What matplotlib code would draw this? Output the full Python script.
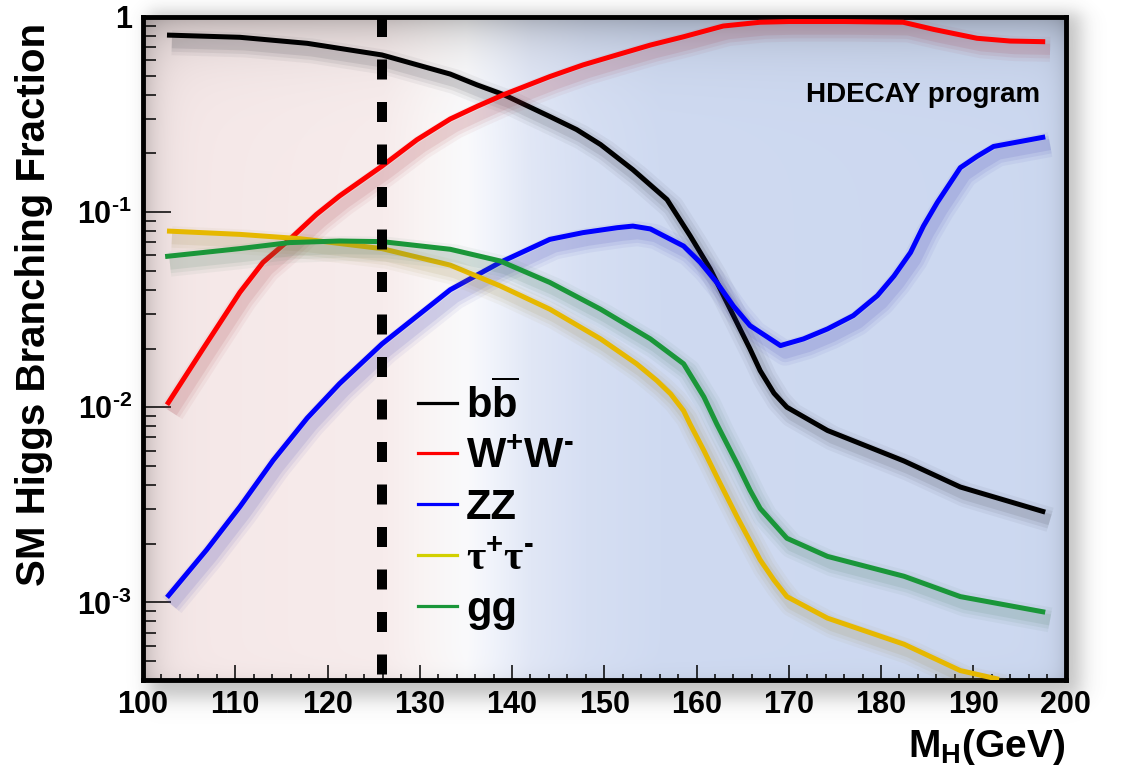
import numpy as np
import matplotlib
matplotlib.use("Agg")
import matplotlib.pyplot as plt
import matplotlib.patheffects as pe
from matplotlib.colors import to_rgb
from matplotlib.lines import Line2D
from matplotlib.ticker import FixedLocator, MultipleLocator, LogLocator, NullFormatter

plt.rcParams["font.family"] = ["Liberation Sans", "DejaVu Sans"]
plt.rcParams["font.weight"] = "bold"
plt.rcParams["mathtext.fontset"] = "custom"
plt.rcParams["mathtext.rm"] = "Liberation Sans:bold"
plt.rcParams["mathtext.bf"] = "Liberation Sans:bold"
plt.rcParams["mathtext.it"] = "Liberation Sans:italic:bold"
plt.rcParams["mathtext.sf"] = "Liberation Serif"

# ---- data ----
m_bb = [102.6, 110.5, 117.8, 125.9, 130.4, 133.3, 136.2, 139.1, 144.1, 147.0, 149.6,
        153.1, 156.8, 159.3, 161.5, 164.0, 165.8, 166.9, 168.4, 169.8, 174.2,
        182.5, 188.6, 197.8]
br_bb = [0.808, 0.787, 0.733, 0.639, 0.557, 0.51, 0.449, 0.40, 0.309, 0.265, 0.222,
         0.165, 0.116, 0.0758, 0.051, 0.0295, 0.0199, 0.0154, 0.0118, 0.0100, 0.0076,
         0.0053, 0.0039, 0.0029]

m_ww = [102.6, 106.5, 110.5, 113.0, 115.9, 118.8, 121.3, 125.9, 129.7,
        133.3, 136.2, 139.1, 144.1, 147.7, 151.4, 155.0, 158.6, 162.9, 166.9, 170.0,
        176.0, 182.4, 185.7, 190.4, 194.0, 197.8]
br_ww = [0.0103, 0.0199, 0.0388, 0.0552, 0.0725, 0.0973, 0.121, 0.172, 0.235,
         0.30, 0.348, 0.40, 0.495, 0.568, 0.64, 0.718, 0.792, 0.899, 0.94, 0.948,
         0.948, 0.94, 0.864, 0.778, 0.753, 0.747]

m_zz = [102.6, 106.9, 110.5, 114.1, 117.8, 121.3, 125.9, 133.3, 138.7, 144.1,
        147.7, 151.4, 153.1, 155.0, 158.6, 160.4, 162.2, 164.0, 165.8, 169.1, 171.6,
        174.2, 177.0, 179.6, 181.4, 183.2, 184.6, 186.1, 188.6, 190.4, 192.2, 197.8]
br_zz = [0.00106, 0.00186, 0.00309, 0.00534, 0.0088, 0.0132, 0.0211, 0.040, 0.0552, 0.0725,
         0.0785, 0.0832, 0.0848, 0.082, 0.067, 0.0553, 0.0436, 0.033, 0.0262, 0.0207, 0.0224,
         0.0252, 0.0295, 0.0373, 0.047, 0.0621, 0.0848, 0.112, 0.169, 0.193, 0.217, 0.243]

m_tt = [102.6, 110.5, 117.0, 125.9, 133.3, 138.7, 144.1, 149.6, 153.5, 155.7,
        157.2, 158.6, 159.3, 160.8, 162.2, 164.4, 166.9, 168.4, 169.8, 174.2, 182.5,
        188.6, 192.8]
br_tt = [0.080, 0.0769, 0.0731, 0.065, 0.0535, 0.0419, 0.0318, 0.0224, 0.0167, 0.0137,
         0.0117, 0.0096, 0.0082, 0.006, 0.0044, 0.00274, 0.00165, 0.0013, 0.00107, 0.00083, 0.00061,
         0.000447, 0.000403]

m_gg = [102.4, 110.5, 115.9, 121.3, 125.9, 133.3, 138.7, 144.1, 149.6, 155.0,
        158.6, 160.8, 162.2, 164.4, 165.8, 166.9, 169.8, 174.2, 182.5, 188.6, 197.8]
br_gg = [0.0592, 0.065, 0.0698, 0.0711, 0.0706, 0.0645, 0.0562, 0.0436, 0.0318, 0.0224,
         0.0167, 0.0113, 0.0082, 0.00514, 0.00376, 0.00303, 0.00213, 0.00172, 0.00136, 0.00107, 0.00089]

m_higgs = 125.9

labels = [r"$\mathbf{b\overline{b}}$", r"$\mathbf{W^{+}W^{\text{-}}}$", "ZZ",
          r"$\mathsf{\tau}^{+}\mathsf{\tau}^{\text{-}}$", "gg"]
line_colors = ["#000000", "#ff0000", "#0000ff", "#e6b800", "#1a9639"]
legend_colors = ["#000000", "#ff0000", "#0000ff", "#d2d000", "#1a9639"]

y_ticks = [1e-3, 1e-2, 1e-1, 1.0]
y_tick_labels = [r"$\mathbf{10^{\text{-}3}}$", r"$\mathbf{10^{\text{-}2}}$",
                 r"$\mathbf{10^{\text{-}1}}$", "1"]

# background gradient stops (x in GeV, rgb 0-255)
bg_stops = [100, 126, 131, 135, 138, 142, 148, 156, 200]
bg_cols = [(245, 231, 231), (247, 236, 236), (250, 245, 245), (250, 250, 252),
           (240, 243, 251), (225, 231, 246), (214, 223, 243), (207, 218, 241), (204, 216, 240)]

W, H = 1127, 766
fig = plt.figure(figsize=(W / 100, H / 100), dpi=100)
pos = [143 / W, 1 - 680 / H, 922.5 / W, 663 / H]

# soft drop shadow behind the frame
yy, xx = np.mgrid[0:H, 0:W]


def soft(d, s):
    return 1.0 / (1.0 + np.exp(-d / s))


alpha = 0.35 * soft(xx - 148, 5) * soft(1080 - xx, 6) * soft(yy - 12, 5) * soft(697 - yy, 6)
shadow_img = np.zeros((H, W, 4))
shadow_img[..., :3] = 0.3
shadow_img[..., 3] = alpha
fig.figimage(shadow_img, 0, 0, origin="upper", zorder=-2)

# gradient panel with inner vignette
bg = fig.add_axes(pos, zorder=0)
nx, ny = 600, 300
u = np.linspace(0, 1, nx)
v = np.linspace(1, 0, ny)
mx = 100 + 100 * u
base = np.stack([np.interp(mx, bg_stops, [c[k] for c in bg_cols]) for k in range(3)], axis=-1) / 255.0
U, V = np.meshgrid(u, v)
shade = (1 - 0.24 * np.exp(-(1 - V) / 0.035)) * (1 - 0.2 * np.exp(-U / 0.015)) \
    * (1 - 0.12 * np.exp(-(1 - U) / 0.01)) * (1 - 0.05 * np.exp(-V / 0.01))
img = base[None, :, :] * shade[:, :, None]
bg.imshow(img, aspect="auto", extent=(0, 1, 0, 1), interpolation="bilinear")
bg.set_axis_off()

ax = fig.add_axes(pos, zorder=1)
ax.set_facecolor("none")


def shadow(c):
    sc = 0.45 * np.array(to_rgb(c)) + 0.55 * np.array([0.35, 0.35, 0.42])
    effects = [pe.SimpleLineShadow(offset=(3.5, -5.5), shadow_color=sc, alpha=a, linewidth=w)
               for w, a in ((18, 0.055), (13, 0.075), (8, 0.1))]
    return effects + [pe.Normal()]


series = [(m_bb, br_bb), (m_ww, br_ww), (m_zz, br_zz), (m_tt, br_tt), (m_gg, br_gg)]
for (mm, br), c in zip(series, line_colors):
    ax.plot(mm, br, color=c, lw=3.6, solid_capstyle="butt", solid_joinstyle="round",
            path_effects=shadow(c), zorder=3)

# m_H = 125 GeV marker
ax.plot([m_higgs, m_higgs], [1, 0], transform=ax.get_xaxis_transform(), color="k",
        lw=7.2, linestyle=(0, (2.0, 2.25)), dash_capstyle="butt", zorder=5)

ax.set_xlim(100, 200)
ax.set_yscale("log")
ax.set_ylim(4e-4, 1)
ax.xaxis.set_major_locator(MultipleLocator(10))
ax.xaxis.set_minor_locator(MultipleLocator(2))
ax.yaxis.set_major_locator(FixedLocator(y_ticks))
ax.set_yticklabels(y_tick_labels)
ax.yaxis.set_minor_locator(LogLocator(base=10, subs=np.arange(2, 10)))
ax.yaxis.set_minor_formatter(NullFormatter())

ax.tick_params(which="both", direction="in", top=False, right=False, width=1.1, color="k")
ax.tick_params(axis="x", which="major", length=10.8, labelsize=22, pad=7)
ax.tick_params(axis="x", which="minor", length=4.5)
ax.tick_params(axis="y", which="major", length=20, labelsize=22, pad=8)
ax.tick_params(axis="y", which="minor", length=9.5)
for s in ax.spines.values():
    s.set_linewidth(3.5)
    s.set_color("k")

ax.set_ylabel("SM Higgs Branching Fraction", fontsize=29, fontweight="bold")
ax.yaxis.set_label_coords(-0.098, 0.567)
ax.set_xlabel(r"$\mathbf{M_{H}}$(GeV)", fontsize=28, fontweight="bold", loc="right")
ax.xaxis.set_label_coords(1.0, -0.071)

ax.text(0.972, 0.872, "HDECAY program", transform=ax.transAxes, ha="right",
        va="baseline", fontsize=20, fontweight="bold")

handles = [Line2D([], [], color=c, lw=2.3) for c in legend_colors]
ax.legend(handles, labels, loc="upper left", bbox_to_anchor=(0.298, 0.452),
          frameon=False, prop={"size": 30, "weight": "bold"}, handlelength=0.95,
          handletextpad=0.2, labelspacing=0.26, borderpad=0, borderaxespad=0)

fig.savefig("out.png", dpi=100)
